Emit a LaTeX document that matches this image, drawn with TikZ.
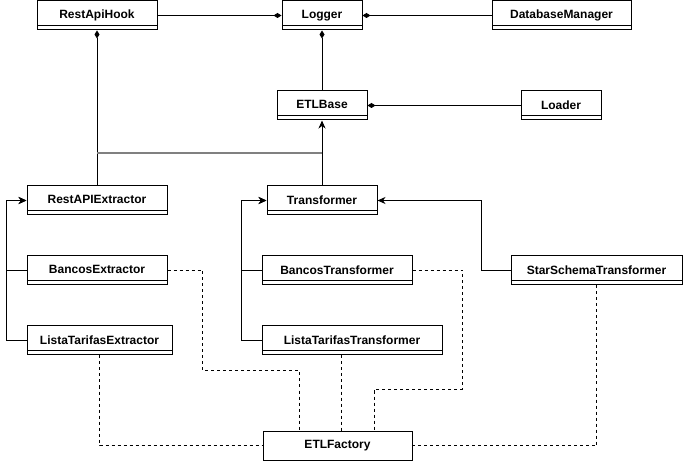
\documentclass[tikz,border=0pt]{standalone}
\usepackage{fontspec}
\setmainfont{Liberation Sans}
\usetikzlibrary{arrows.meta}
\newcommand{\cltxt}[1]{\raisebox{1.5pt}{#1}}
\begin{document}
\begin{tikzpicture}[x=1pt,y=-1pt,
  base/.style={draw, line width=1pt, minimum height=29pt, inner sep=0pt,
    font=\bfseries\fontsize{12}{14}\selectfont},
  cls/.style={base, path picture={\draw[line width=1pt]
      ([yshift=4pt]path picture bounding box.south west) --
      ([yshift=4pt]path picture bounding box.south east);}},
  conn/.style={line width=1pt},
  diam/.style={conn, {Diamond[length=8pt,width=5pt]}-},
  inh/.style={conn, -{Stealth[length=8pt,width=7pt,inset=2.5pt]}},
  dep/.style={conn, dash pattern=on 3pt off 3pt},
  joinline/.style={line width=1.2pt, draw=black!50}
]
\useasboundingbox (0,0) rectangle (683,462);

% classes
\node[cls, minimum width=120pt] (hook)   at (97,15.5)    {\cltxt{RestApiHook}};
\node[cls, minimum width=80pt]  (logger) at (322,15.5)   {\cltxt{Logger}};
\node[cls, minimum width=139pt] (db)     at (561.5,15.5) {\cltxt{DatabaseManager}};
\node[cls, minimum width=90pt]  (etl)    at (322,105.5)  {\cltxt{ETLBase}};
\node[cls, minimum width=80pt]  (loader) at (561,105.5)  {\cltxt{Loader}};
\node[cls, minimum width=140pt] (rex)    at (97,200.5)   {\cltxt{RestAPIExtractor}};
\node[cls, minimum width=140pt] (bex)    at (97,270.5)   {\cltxt{BancosExtractor}};
\node[cls, minimum width=145pt] (lex)    at (99.5,340.5) {\cltxt{ListaTarifasExtractor}};
\node[cls, minimum width=110pt] (tr)     at (322,200.5)  {\cltxt{Transformer}};
\node[cls, minimum width=150pt] (btr)    at (337,270.5)  {\cltxt{BancosTransformer}};
\node[cls, minimum width=180pt] (ltr)    at (352,340.5)  {\cltxt{ListaTarifasTransformer}};
\node[cls, minimum width=171pt] (sst)    at (596.5,270.5){\cltxt{StarSchemaTransformer}};
\node[base, minimum width=149pt] (fac)   at (337.5,445.5){ETLFactory};

% compositions
\draw[diam] (logger.west) -- (hook.east);
\draw[diam] (logger.east) -- (db.west);
\draw[diam] (logger.south) -- (etl.north);
\draw[diam] (etl.east) -- (loader.west);
\draw[diam] (hook.south) -- (rex.north);

% join of extractor branch to ETLBase inheritance
\coordinate (j1) at (97,153);
\coordinate (j2) at (322,153);
\draw[joinline] (j1) -- (j2);
\draw[inh] (tr.north) -- (etl.south);

% inheritance
\draw[inh] (bex.west) -- ++(-20,0) |- (rex.west);
\draw[inh] (lex.west) -- ++(-20,0) |- (rex.west);
\draw[inh] (btr.west) -- ++(-20,0) |- (tr.west);
\draw[inh] (ltr.west) -- ++(-20,0) |- (tr.west);
\draw[inh] (sst.west) -- ++(-29,0) |- (tr.east);

% dependencies to factory
\draw[dep] (lex.south) |- (fac.west);
\draw[dep] (sst.south) |- (fac.east);
\draw[dep] (bex.east) -- ++(35,0) -- ++(0,100.5) -| ([xshift=37pt]fac.north west);
\draw[dep] ([xshift=80pt]ltr.south west) -- ([xshift=79pt]fac.north west);
\draw[dep] (btr.east) -- ++(50,0) -- ++(0,118.5) -| ([xshift=112pt]fac.north west);
\end{tikzpicture}
\end{document}
